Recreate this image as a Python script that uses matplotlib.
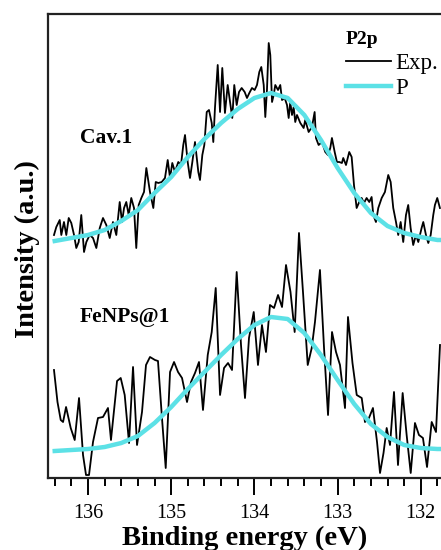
"""
P2p XPS spectra of Cav.1 and FeNPs@1 with the fitted P component.
"""
import matplotlib
matplotlib.use('Agg')
import matplotlib.pyplot as plt
from matplotlib.ticker import MultipleLocator

# Experimental spectrum, Cav.1 (binding energy in eV, intensity in a.u.)
CAV_ENERGY = [136.409, 136.381, 136.340, 136.321, 136.289, 136.261, 136.232, 136.201, 136.168, 136.141,
              136.112, 136.081, 136.048, 136.020, 135.980, 135.940, 135.900, 135.859, 135.820, 135.780,
              135.739, 135.700, 135.660, 135.619, 135.591, 135.567, 135.540, 135.511, 135.480, 135.447,
              135.420, 135.391, 135.359, 135.327, 135.299, 135.255, 135.215, 135.186, 135.155, 135.114,
              135.075, 135.042, 135.014, 134.987, 134.955, 134.915, 134.882, 134.855, 134.834, 134.802,
              134.774, 134.746, 134.714, 134.674, 134.654, 134.626, 134.602, 134.573, 134.546, 134.513,
              134.494, 134.474, 134.441, 134.413, 134.386, 134.354, 134.321, 134.293, 134.266, 134.242,
              134.213, 134.185, 134.153, 134.117, 134.089, 134.061, 134.029, 133.997, 133.969, 133.941,
              133.917, 133.888, 133.869, 133.849, 133.828, 133.809, 133.788, 133.768, 133.749, 133.716,
              133.689, 133.668, 133.636, 133.608, 133.588, 133.569, 133.548, 133.528, 133.509, 133.488,
              133.448, 133.408, 133.389, 133.348, 133.308, 133.276, 133.260, 133.228, 133.188, 133.148,
              133.116, 133.088, 133.068, 133.035, 133.008, 132.980, 132.948, 132.932, 132.899, 132.860,
              132.831, 132.803, 132.771, 132.740, 132.711, 132.683, 132.651, 132.619, 132.591, 132.571,
              132.539, 132.511, 132.470, 132.431, 132.391, 132.362, 132.331, 132.298, 132.271, 132.242,
              132.211, 132.178, 132.151, 132.122, 132.091, 132.058, 132.030, 132.010, 131.990, 131.970,
              131.938, 131.910, 131.881, 131.850, 131.830, 131.802, 131.770]
CAV_COUNTS = [243, 251, 258, 243, 256, 243, 260, 255, 243, 230,
              236, 263, 226, 236, 243, 240, 230, 250, 260, 253,
              240, 256, 243, 276, 256, 270, 276, 263, 280, 270,
              230, 273, 280, 286, 310, 286, 270, 296, 295, 296,
              300, 318, 300, 315, 306, 316, 313, 333, 343, 316,
              300, 316, 336, 306, 298, 323, 333, 366, 368, 355,
              336, 370, 413, 366, 410, 365, 393, 376, 360, 393,
              373, 386, 390, 386, 380, 385, 390, 388, 393, 406,
              411, 393, 361, 388, 435, 423, 376, 383, 393, 388,
              393, 378, 380, 373, 360, 376, 363, 371, 356, 363,
              355, 350, 358, 346, 351, 366, 340, 333, 336, 326,
              323, 330, 340, 326, 316, 316, 315, 320, 313, 326,
              321, 293, 270, 276, 280, 275, 280, 276, 281, 263,
              256, 270, 280, 286, 303, 296, 270, 256, 243, 256,
              236, 263, 273, 250, 233, 243, 236, 243, 250, 256,
              243, 235, 243, 263, 273, 280, 270]

# Experimental spectrum, FeNPs@1
FENP_ENERGY = [136.409, 136.367, 136.328, 136.300, 136.264, 136.208, 136.160, 136.108, 136.060, 136.024,
               135.988, 135.940, 135.880, 135.820, 135.760, 135.724, 135.651, 135.607, 135.559, 135.507,
               135.459, 135.411, 135.351, 135.303, 135.255, 135.195, 135.159, 135.111, 135.066, 135.014,
               134.966, 134.918, 134.870, 134.810, 134.762, 134.714, 134.666, 134.618, 134.561, 134.513,
               134.465, 134.413, 134.365, 134.317, 134.269, 134.213, 134.161, 134.113, 134.065, 134.008,
               133.957, 133.909, 133.861, 133.813, 133.764, 133.716, 133.668, 133.620, 133.566, 133.516,
               133.464, 133.416, 133.359, 133.311, 133.272, 133.212, 133.163, 133.115, 133.067, 133.019,
               132.971, 132.911, 132.875, 132.821, 132.770, 132.710, 132.671, 132.623, 132.575, 132.526,
               132.490, 132.448, 132.410, 132.370, 132.322, 132.274, 132.218, 132.170, 132.121, 132.070,
               132.022, 131.974, 131.925, 131.869, 131.817, 131.769]
FENP_COUNTS = [108, 76, 58, 56, 71, 50, 38, 80, 23, 3,
               3, 36, 60, 61, 70, 38, 97, 100, 83, 35,
               111, 33, 66, 113, 121, 118, 117, 60, 10, 106,
               116, 106, 100, 76, 96, 105, 116, 68, 123, 146,
               190, 83, 110, 115, 108, 206, 133, 80, 140, 166,
               113, 153, 126, 173, 170, 183, 171, 213, 186, 146,
               245, 186, 113, 130, 156, 208, 130, 63, 146, 126,
               113, 70, 161, 115, 83, 80, 56, 60, 70, 36,
               5, 25, 50, 33, 86, 13, 85, 43, 5, 55,
               43, 40, 11, 56, 46, 133]

# Fitted P component (same energy grid for both samples)
FIT_ENERGY = [136.4, 136.2, 136.0, 135.8, 135.6, 135.4, 135.2, 135.0, 134.8, 134.6, 134.4, 134.2,
              134.0, 133.8, 133.6, 133.4, 133.2, 133.0, 132.8, 132.6, 132.4, 132.2, 132.0, 131.8, 131.7]
CAV_FIT = [237, 240, 243, 248, 257, 268, 285, 301, 321, 339, 355, 369,
           380, 385, 380, 363, 338, 310, 285, 265, 252, 245, 241, 238, 238]
FENP_FIT = [27, 28, 29, 31, 35, 42, 55, 71, 89, 106, 123, 139,
            153, 161, 159, 145, 123, 98, 74, 54, 41, 33, 30, 29, 29]

BLACK = 'black'
CYAN = '#5ce1e6'

plt.rcParams['font.family'] = ['Liberation Serif', 'DejaVu Serif']

fig = plt.figure(figsize=(4.41, 5.5), dpi=100)
ax = fig.add_axes([48 / 441, 72 / 550, 393 / 441, 464 / 550])

ax.plot(CAV_ENERGY, CAV_COUNTS, color=BLACK, lw=1.3, label='Exp.')
ax.plot(FIT_ENERGY, CAV_FIT, color=CYAN, lw=3.2, solid_joinstyle='round', label='P')
ax.plot(FENP_ENERGY, FENP_COUNTS, color=BLACK, lw=1.3)
ax.plot(FIT_ENERGY, FENP_FIT, color=CYAN, lw=3.2, solid_joinstyle='round')

ax.set_xlim(136.481, 131.757)
ax.set_ylim(0, 464)

ax.xaxis.set_major_locator(MultipleLocator(1))
ax.xaxis.set_minor_locator(MultipleLocator(0.2))
ax.tick_params(axis='x', which='major', direction='out', length=12, width=1.4,
               labelsize=14.5, pad=7)
ax.tick_params(axis='x', which='minor', direction='out', length=6, width=1.4)
ax.set_yticks([])
ax.spines['right'].set_visible(False)
for side in ['left', 'top', 'bottom']:
    ax.spines[side].set_linewidth(1.6)
    ax.spines[side].set_color('#222222')

ax.set_xlabel('Binding energy (eV)', fontsize=20.5, fontweight='bold', labelpad=2)
fig.text(27 / 441, 1 - 249 / 550, 'Intensity (a.u.)', rotation=90, fontsize=20.5,
         fontweight='bold', ha='center', va='center')

# sample labels, placed in pixel-derived axes fractions
ax.text((80 - 48) / 393, (478 - 138) / 464, 'Cav.1', transform=ax.transAxes,
        fontsize=15.5, fontweight='bold', ha='left', va='center')
ax.text((80 - 48) / 393, (478 - 317) / 464, 'FeNPs@1', transform=ax.transAxes,
        fontsize=15.5, fontweight='bold', ha='left', va='center')

leg = ax.legend(loc='upper left', bbox_to_anchor=((346 - 48) / 393, (478 - 31) / 464),
                frameon=False, title='P2p', title_fontproperties={'weight': 'bold', 'size': 14},
                fontsize=16.5, handlelength=1.95, handletextpad=0.22, labelspacing=0.2,
                borderpad=0, borderaxespad=0, alignment='left')

fig.savefig('out.png', dpi=100)
